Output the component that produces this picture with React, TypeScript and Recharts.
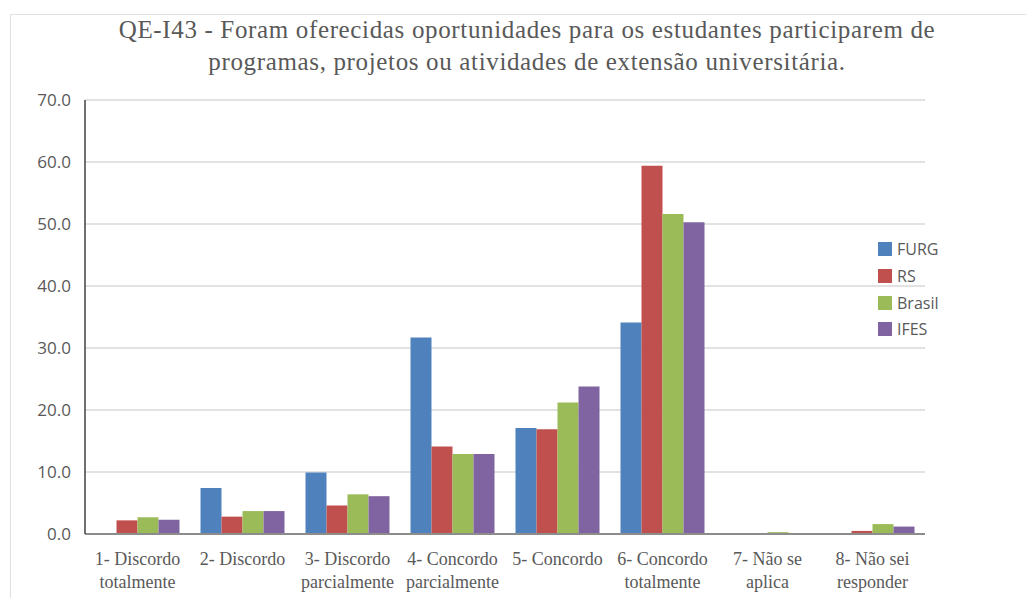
import { Bar, BarChart, CartesianGrid, XAxis, YAxis } from 'recharts'

const categories = [
  '1- Discordo|totalmente',
  '2- Discordo',
  '3- Discordo|parcialmente',
  '4- Concordo|parcialmente',
  '5- Concordo',
  '6- Concordo|totalmente',
  '7- Não se|aplica',
  '8- Não sei|responder',
]

const furg = [0, 7.4, 9.9, 31.7, 17.1, 34.1, 0, 0]
const rs = [2.2, 2.8, 4.6, 14.1, 16.9, 59.4, 0, 0.5]
const brasil = [2.7, 3.7, 6.4, 12.9, 21.2, 51.6, 0.3, 1.6]
const ifes = [2.3, 3.7, 6.1, 12.9, 23.8, 50.3, 0.1, 1.2]

const yTicks = [0, 10, 20, 30, 40, 50, 60, 70]

const series = [
  { key: 'FURG', color: '#4f81bd' },
  { key: 'RS', color: '#c0504d' },
  { key: 'Brasil', color: '#9bbb59' },
  { key: 'IFES', color: '#8064a2' },
]

const data = categories.map((c, i) => ({
  cat: c,
  FURG: furg[i],
  RS: rs[i],
  Brasil: brasil[i],
  IFES: ifes[i],
}))

const SERIF = '"Liberation Serif", "DejaVu Serif", serif'
const SANS = '"Open Sans", "Noto Sans", sans-serif'
const TEXT = '#595959'

function CatTick({ x, y, payload }: { x?: number; y?: number; payload?: { value: string } }) {
  const lines = (payload?.value ?? '').split('|')
  return (
    <text
      x={x}
      y={(y ?? 0) + 23}
      textAnchor="middle"
      fill={TEXT}
      style={{ fontFamily: SERIF, fontSize: 18 }}
    >
      {lines.map((l, i) => (
        <tspan key={i} x={x} dy={i === 0 ? 0 : 23}>
          {l}
        </tspan>
      ))}
    </text>
  )
}

export default function App() {
  return (
    <div style={{ position: 'relative', width: 1034, height: 606, margin: -8, background: '#fff', overflow: 'hidden' }}>
      <div
        style={{
          position: 'absolute',
          left: 10,
          top: 14,
          width: 1040,
          height: 600,
          borderTop: '1px solid #e0e0e0',
          borderLeft: '1px solid #e0e0e0',
        }}
      />
      <div
        style={{
          position: 'absolute',
          left: 10,
          top: 14,
          width: 1034,
          textAlign: 'center',
          fontFamily: SERIF,
          fontSize: 25,
          letterSpacing: 0.65,
          lineHeight: '32px',
          color: TEXT,
        }}
      >
        QE-I43 - Foram oferecidas oportunidades para os estudantes participarem de
        <br />
        programas, projetos ou atividades de extensão universitária.
      </div>
      <div style={{ position: 'absolute', left: 0, top: 0 }}>
        <BarChart
          width={1034}
          height={606}
          data={data}
          margin={{ top: 100, right: 109, bottom: 0, left: 10 }}
          barCategoryGap="10%"
          barGap={0}
        >
          <CartesianGrid vertical={false} stroke="#d9d9d9" strokeWidth={1.5} />
          <XAxis
            dataKey="cat"
            tick={<CatTick />}
            tickLine={false}
            axisLine={{ stroke: '#8c8c8c', strokeWidth: 2 }}
            interval={0}
            height={72}
          />
          <YAxis
            domain={[0, 70]}
            ticks={yTicks}
            tickFormatter={(v: number) => v.toFixed(1)}
            tickLine={false}
            axisLine={{ stroke: '#404040', strokeWidth: 1.5 }}
            width={75}
            tick={{ fill: TEXT, fontFamily: SANS, fontSize: 17, dx: -6 }}
          />
          {series.map((s) => (
            <Bar key={s.key} dataKey={s.key} fill={s.color} isAnimationActive={false} />
          ))}
        </BarChart>
      </div>
      <div style={{ position: 'absolute', left: 878, top: 236 }}>
        {series.map((s) => (
          <div key={s.key} style={{ display: 'flex', alignItems: 'center', height: 26.7 }}>
            <span style={{ width: 14, height: 14, background: s.color, marginRight: 5 }} />
            <span style={{ color: TEXT, fontFamily: SANS, fontSize: 16 }}>{s.key}</span>
          </div>
        ))}
      </div>
    </div>
  )
}
